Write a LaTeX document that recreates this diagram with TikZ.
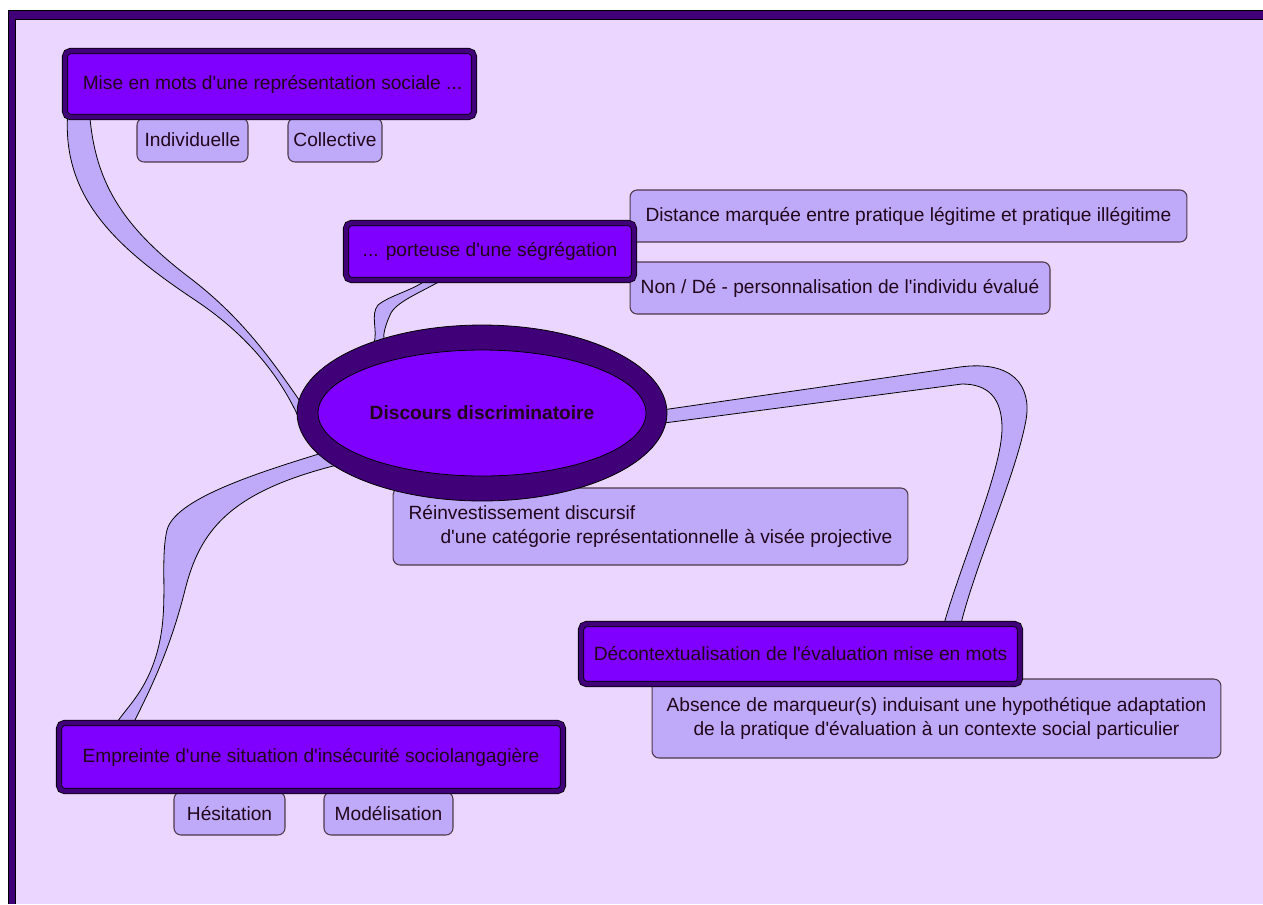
\documentclass[tikz,border=0pt]{standalone}
\usepackage{fontspec}
\newfontfamily\mapfont{Liberation Sans}
\usepackage{tikz}
\usetikzlibrary{positioning, calc, shapes.geometric, backgrounds}
\definecolor{PaperLavender}{HTML}{EAD6FE}
\definecolor{FramePurple}{HTML}{3F0078}
\definecolor{CoreViolet}{HTML}{7F00FF}
\definecolor{LeafLilac}{HTML}{BFAAF9}
\definecolor{InkDark}{HTML}{22061C}
\pgfdeclarelayer{canvas}
\pgfsetlayers{canvas,background,main}

\begin{document}
\begin{tikzpicture}[
      x=0.02cm, y=-0.02cm,
      every node/.style={font=\mapfont\fontsize{10.9}{13.6}\selectfont, text=InkDark, inner sep=0pt},
      topic/.style={rectangle, rounded corners=3pt, draw=black, line width=0.45pt, double=FramePurple, double distance=2.6pt, fill=CoreViolet},
      leaf/.style={rectangle, rounded corners=4pt, draw=InkDark!80, line width=0.6pt, fill=LeafLilac},
      ribbon/.style={fill=LeafLilac, draw=black, line width=0.45pt}
  ]
    \useasboundingbox (0,0) rectangle (1263,904);
    \begin{pgfonlayer}{canvas}
      \fill[white] (0,0) rectangle (1263,904);
      \fill[FramePurple] (8,10) rectangle (1263,904);
      \fill[PaperLavender] (15,19) rectangle (1263,904);
      \draw[line width=0.4pt] (8,904) -- (8,10) -- (1263,10);
      \draw[line width=0.4pt] (1263,19) -- (15,19) -- (15,904);
    \end{pgfonlayer}

    \node[leaf, minimum width=2.22cm, minimum height=0.88cm](indiv) at (192.5,140){Individuelle};
    \node[leaf, minimum width=1.88cm, minimum height=0.88cm](coll) at (335,140){Collective};
    \node[topic, minimum width=8.18cm, minimum height=1.32cm](mise) at (269.5,84){\hspace*{0.12cm}Mise en mots d'une représentation sociale ...};

    \node[leaf, minimum width=11.14cm, minimum height=1.04cm](dist) at (908.5,216){Distance marquée entre pratique légitime et pratique illégitime};
    \node[leaf, minimum width=8.4cm, minimum height=1.04cm](nonde) at (840,288){Non / Dé - personnalisation de l'individu évalué};
    \node[topic, minimum width=5.76cm, minimum height=1.14cm](seg) at (490,251.5){... porteuse d'une ségrégation};

    \node[leaf, minimum width=10.3cm, minimum height=1.54cm, align=left](reinv) at (650.5,526.5){Réinvestissement discursif\\\hspace*{0.64cm}d'une catégorie représentationnelle à visée projective};
    \node[ellipse, draw=black, line width=0.45pt, fill=FramePurple, minimum width=7.4cm, minimum height=3.52cm](core) at (482,413){};
    \node[ellipse, draw=black, line width=0.45pt, fill=CoreViolet, minimum width=6.56cm, minimum height=2.52cm, font=\mapfont\fontsize{10.9}{13.6}\selectfont\bfseries](coreIn) at (core.center){Discours discriminatoire};

    \node[leaf, minimum width=11.38cm, minimum height=1.58cm, align=center](absence) at (936.5,718.5){Absence de marqueur(s) induisant une hypothétique adaptation\\de la pratique d'évaluation à un contexte social particulier};
    \node[topic, minimum width=8.78cm, minimum height=1.2cm](decon) at (800.5,654){Décontextualisation de l'évaluation mise en mots};

    \node[leaf, minimum width=2.22cm, minimum height=0.86cm](hesit) at (229.5,813.5){Hésitation};
    \node[leaf, minimum width=2.58cm, minimum height=0.86cm](model) at (388.5,813.5){Modélisation};
    \node[topic, minimum width=10.08cm, minimum height=1.36cm](empr) at (311,757){Empreinte d'une situation d'insécurité sociolangagière};

    \begin{pgfonlayer}{background}
      \draw[ribbon] ($(mise.south west)+(3,-3)$) .. controls (62,200) and (120,250) .. (195,300) .. controls (255,340) and (285,385) .. ($(core)+(-180,12)$) -- ($(core)+(-178,-6)$) .. controls (275,365) and (245,320) .. (190,278) .. controls (120,225) and (95,180) .. ($(mise.south west)+(25,-3)$) -- cycle;
      \draw[ribbon] ($(core)+(-108,-70)$) .. controls (378,330) and (370,315) .. (378,305) .. controls (390,295) and (415,290) .. ($(seg.south)+(-62,-2)$) -- ($(seg.south)+(-45,-2)$) .. controls (420,293) and (395,302) .. (390,315) .. controls (385,326) and (383,335) .. ($(core)+(-98,-74)$) -- cycle;
      \draw[ribbon] ($(core)+(180,-3)$) -- (960,367) .. controls (1012,360) and (1032,385) .. (1026,420) .. controls (1016,475) and (975,565) .. ($(decon.north)+(160,2)$) -- ($(decon.north)+(143,2)$) .. controls (962,560) and (1002,470) .. (1002,428) .. controls (1002,398) and (988,384) .. (962,384) -- ($(core)+(182,10)$) -- cycle;
      \draw[ribbon] ($(core)+(-160,40)$) .. controls (250,475) and (175,500) .. (167,530) .. controls (160,560) and (168,600) .. (160,640) .. controls (150,690) and (125,708) .. ($(empr.north west)+(57,2)$) -- ($(empr.north west)+(74,2)$) .. controls (150,690) and (170,650) .. (185,590) .. controls (200,530) and (230,492) .. ($(core)+(-145,52)$) -- cycle;
    \end{pgfonlayer}
  \end{tikzpicture}
\end{document}
